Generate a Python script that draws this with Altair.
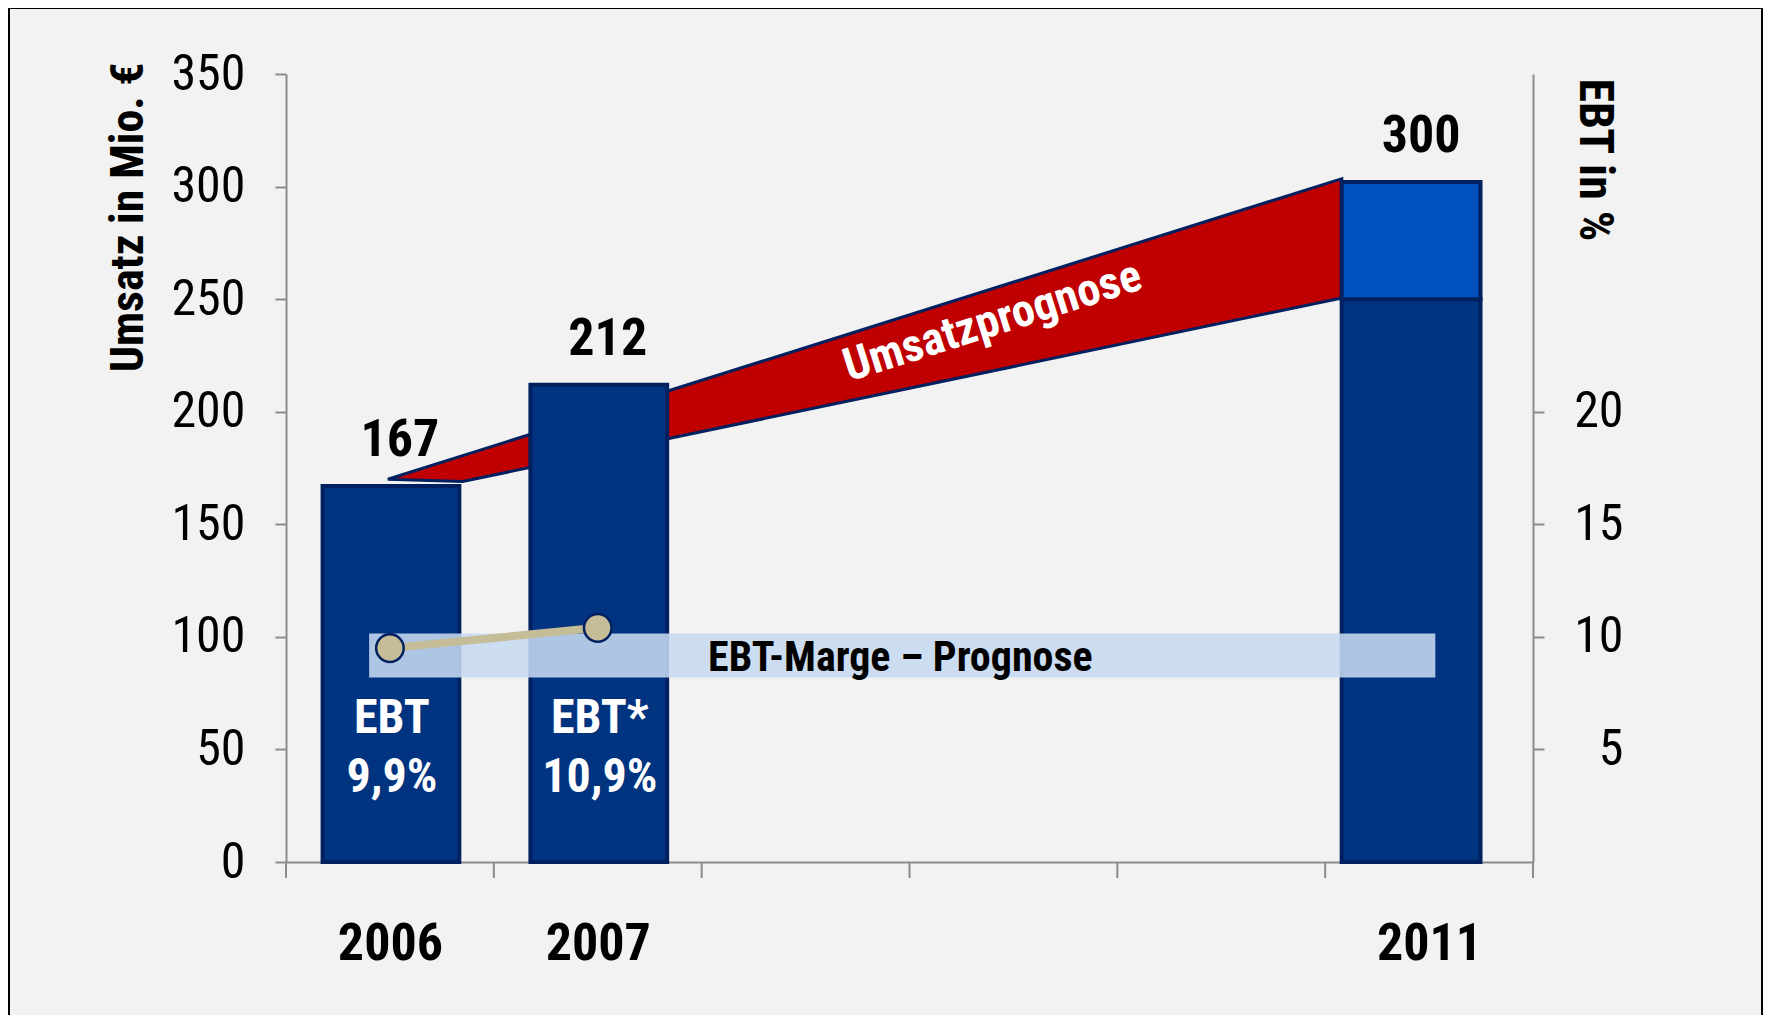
import altair as alt
import pandas as pd

# ---------------- data ----------------
years = ["2006", "2007", "2008", "2009", "2010", "2011"]
labeled_years = ["2006", "2007", "2011"]

bar_years = ["2006", "2007", "2011"]
revenue = [167, 212, 302]            # drawn bar tops (Mio. EUR)
revenue_labels = ["167", "212", "300"]
base_2011 = 250                      # lower (dark) part of 2011 bar

# "Umsatzprognose" band (x in category units, y in Mio. EUR)
forecast_x = [0.49, 0.85, 5.08]
forecast_upper = [170, 180.5, 303.5]
forecast_lower = [170, 169, 250.5]

ebt_years = ["2006", "2007"]
ebt_margin = [9.5, 10.4]             # EBT in %
ebt_names = ["EBT", "EBT*"]
ebt_values = ["9,9%", "10,9%"]

band_x = [0.40, 5.53]                # EBT-Marge - Prognose band
band_y = [8.2, 10.15]

left_ticks = [0, 50, 100, 150, 200, 250, 300, 350]
right_ticks = [5, 10, 15, 20]

# ---------------- style ----------------
FONT = "Liberation Sans Narrow, Arial Narrow, Roboto Condensed, sans-serif"
NAVY = "#003380"
NAVY_DARK = "#002060"
LIGHT = "#0050BE"
RED = "#C00000"
GREY = "#8C8C8C"
BAR_HALF = 0.334
W, H = 1247, 788
PAD = {"left": 278, "top": 66, "right": 230, "bottom": 153}


def pos(y):
    return years.index(y) + 0.5


# bars table
rows = []
for y, v in zip(bar_years, revenue):
    if y == "2011":
        rows.append({"year": y, "pos": pos(y), "lo": 0, "hi": base_2011, "part": "base"})
        rows.append({"year": y, "pos": pos(y), "lo": base_2011, "hi": v, "part": "top"})
    else:
        rows.append({"year": y, "pos": pos(y), "lo": 0, "hi": v, "part": "base"})
bars_df = pd.DataFrame(rows)

labels_df = pd.DataFrame({"year": bar_years, "pos": [pos(y) for y in bar_years],
                          "value": revenue, "label": revenue_labels})
fc_df = pd.DataFrame({"x": forecast_x, "up": forecast_upper, "low": forecast_lower})
ebt_df = pd.DataFrame({"year": ebt_years, "pos": [pos(y) for y in ebt_years],
                       "ebt": ebt_margin, "ly": [63.3, 63.3],
                       "txt": [a + "\n" + b for a, b in zip(ebt_names, ebt_values)]})
band_df = pd.DataFrame({"x0": [band_x[0]], "x1": [band_x[1]], "y0": [band_y[0]], "y1": [band_y[1]],
                        "tx": [2.956], "ty": [9.04], "txt": ["EBT-Marge – Prognose"]})
prog_df = pd.DataFrame({"tx": [3.40], "ty": [240], "txt": ["Umsatzprognose"]})
bound_df = pd.DataFrame({"b": list(range(len(years) + 1))})
one = pd.DataFrame({"a": [0]})

# x axis: labels at centres of the labelled years (ticks drawn at category boundaries)
label_vals = [pos(y) for y in labeled_years]
expr = "''"
for y in reversed(labeled_years):
    expr = f"datum.value == {pos(y)} ? '{y}' : " + expr


def X(field):
    return alt.X(
        field, type="quantitative",
        scale=alt.Scale(domain=[0, 6], nice=False, zero=False),
        axis=alt.Axis(
            values=label_vals, labelExpr=expr, ticks=False,
            domainColor=GREY, domainWidth=2,
            labelFont=FONT, labelFontSize=52, labelFontWeight="bold", labelColor="black",
            labelPadding=56, labelOverlap=False, labelFlush=False, grid=False, title=None,
        ),
    )


def YL(field, axis=None):
    return alt.Y(field, type="quantitative", scale=alt.Scale(domain=[0, 350], nice=False), axis=axis)


def YR(field, axis=None):
    return alt.Y(field, type="quantitative", scale=alt.Scale(domain=[0, 35], nice=False), axis=axis)


yl_axis = alt.Axis(
    orient="left", values=left_ticks, tickSize=11, tickWidth=2, tickColor=GREY, domainColor=GREY,
    domainWidth=2, labelFont=FONT, labelFontSize=50, labelColor="black", labelPadding=30, grid=False,
    title="Umsatz in Mio. €", titleFont=FONT, titleFontSize=46, titleFontWeight="bold",
    titleColor="black", titleAngle=270, titleAlign="right", titleBaseline="middle",
    titleX=-158, titleY=-12,
)
yr_axis = alt.Axis(
    orient="right", values=right_ticks, tickSize=11, tickWidth=2, tickColor=GREY,
    domainColor=GREY, domainWidth=2, labelFont=FONT, labelFontSize=50, labelColor="black",
    labelAlign="right", labelPadding=79, grid=False,
    title="EBT in %", titleFont=FONT, titleFontSize=48, titleFontWeight="bold",
    titleColor="black", titleAngle=90, titleAlign="left", titleBaseline="middle",
    titleX=60, titleY=4,
)

frame = alt.Chart(one).mark_rect(fill="#F2F2F2", fillOpacity=0, stroke="black", strokeWidth=2).encode(
    x=alt.value(-277), x2=alt.value(1476), y=alt.value(-66), y2=alt.value(1000)
)

xticks = alt.Chart(bound_df).mark_rule(color=GREY, strokeWidth=2).encode(
    x=X("b"), y=alt.value(H), y2=alt.value(H + 16),
)

forecast = alt.Chart(fc_df).mark_area(color=RED, stroke=NAVY_DARK, strokeWidth=3, interpolate="linear").encode(
    x=X("x"), y=YL("up"), y2="low:Q",
)


def bar_color():
    return alt.Color("part:N", scale=alt.Scale(domain=["base", "top"], range=[NAVY, LIGHT]), legend=None)


bars_a = alt.Chart(bars_df).transform_filter("datum.year != '2011'").transform_calculate(
    x0=f"datum.pos - {BAR_HALF} + 0.01", x1=f"datum.pos + {BAR_HALF}"
).mark_bar(stroke=NAVY_DARK, strokeWidth=4).encode(
    x=X("x0"), x2="x1:Q", y=YL("lo", yl_axis), y2="hi:Q", color=bar_color(),
)
bars_b = alt.Chart(bars_df).transform_filter("datum.year == '2011'").transform_calculate(
    x0=f"datum.pos - {BAR_HALF}", x1=f"datum.pos + {BAR_HALF}"
).mark_bar(stroke=NAVY_DARK, strokeWidth=4, xOffset=-18, x2Offset=-18).encode(
    x=X("x0"), x2="x1:Q", y=YL("lo"), y2="hi:Q", color=bar_color(),
)

val_a = alt.Chart(labels_df).transform_filter("datum.year != '2011'").mark_text(
    font=FONT, fontSize=52, fontWeight="bold", color="black", baseline="alphabetic", dx=10, dy=-30
).encode(x=X("pos"), y=YL("value"), text="label:N")
val_b = alt.Chart(labels_df).transform_filter("datum.year == '2011'").mark_text(
    font=FONT, fontSize=52, fontWeight="bold", color="black", baseline="alphabetic", dx=-8, dy=-30
).encode(x=X("pos"), y=YL("value"), text="label:N")

ebt_txt = alt.Chart(ebt_df).mark_text(
    font=FONT, fontSize=48, fontWeight="bold", color="white", baseline="middle",
    lineBreak="\n", lineHeight=59, dx=2
).encode(x=X("pos"), y=YL("ly"), text="txt:N")

prog_txt = alt.Chart(prog_df).mark_text(
    font=FONT, fontSize=46, fontWeight="bold", color="white", baseline="middle", angle=342.5
).encode(x=X("tx"), y=YL("ty"), text="txt:N")

band = alt.Chart(band_df).mark_rect(color="#C6D9F1", opacity=0.88).encode(
    x=X("x0"), x2="x1:Q", y=YR("y0"), y2="y1:Q",
)
band_txt = alt.Chart(band_df).mark_text(
    font=FONT, fontSize=42, fontWeight="bold", color="black", baseline="middle"
).encode(x=X("tx"), y=YR("ty"), text="txt:N")
ebt_line = alt.Chart(ebt_df).mark_line(color="#C4BD97", strokeWidth=8).encode(
    x=X("pos"), y=YR("ebt"),
)
ebt_pts = alt.Chart(ebt_df).mark_point(
    filled=True, fill="#C4BD97", stroke=NAVY_DARK, strokeWidth=2.5, size=760, opacity=1, shape="circle"
).encode(x=X("pos"), y=YR("ebt", yr_axis))

chart = alt.layer(
    frame, xticks, forecast, bars_a, bars_b, val_a, val_b, ebt_txt, prog_txt,
    band, band_txt, ebt_line, ebt_pts,
).resolve_scale(y="independent").properties(
    width=W, height=H, padding=PAD, autosize=alt.AutoSizeParams(type="none"),
    background="#F2F2F2",
).configure_view(stroke=None)

chart.save("out.html", embed_options={"renderer": "svg", "actions": False})
